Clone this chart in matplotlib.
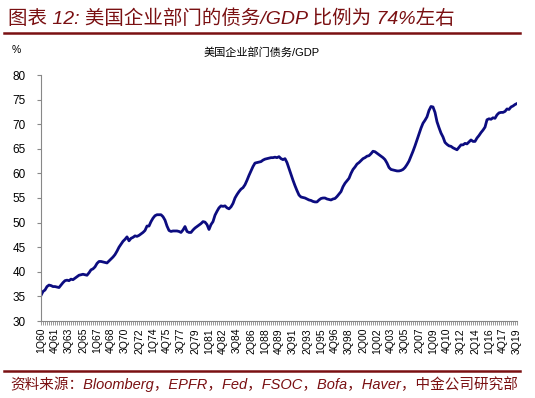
import matplotlib
matplotlib.use('Agg')
import matplotlib.pyplot as plt
from matplotlib.lines import Line2D

plt.rcParams['font.family'] = ['Liberation Sans', 'Noto Sans CJK SC', 'DejaVu Sans']

# quarterly corporate debt / GDP (%), 1Q60 .. 3Q19
debt_1960s = [35.2, 36.0, 36.3, 37.0, 37.3, 37.2, 37.0, 37.0, 36.9, 36.8, 37.3, 37.8,
              38.2, 38.3, 38.2, 38.5, 38.4, 38.7, 39.0, 39.3, 39.4, 39.5, 39.4, 39.3,
              39.8, 40.4, 40.6, 41.0, 41.7, 42.1, 42.1, 42.0, 41.9, 41.8, 42.2, 42.6,
              43.0, 43.5, 44.2, 45.0]
debt_1970s = [45.6, 46.2, 46.6, 47.1, 46.3, 46.8, 47.0, 47.3, 47.2, 47.4, 47.7, 48.0,
              48.4, 49.3, 49.3, 50.2, 50.9, 51.4, 51.6, 51.6, 51.6, 51.2, 50.5, 49.3,
              48.4, 48.2, 48.3, 48.3, 48.3, 48.2, 48.0, 48.5, 49.2, 48.2, 48.0, 48.0,
              48.5, 48.9, 49.2, 49.5]
debt_1980s = [49.8, 50.2, 50.1, 49.6, 48.6, 49.6, 50.2, 51.5, 52.3, 53.0, 53.4, 53.3,
              53.4, 53.0, 52.8, 53.2, 53.9, 55.0, 55.7, 56.3, 56.8, 57.1, 57.7, 58.6,
              59.6, 60.5, 61.4, 62.1, 62.2, 62.3, 62.4, 62.7, 62.9, 63.0, 63.1, 63.2,
              63.2, 63.3, 63.2, 63.4]
debt_1990s = [63.0, 62.8, 63.0, 62.2, 61.0, 59.8, 58.6, 57.5, 56.5, 55.6, 55.2, 55.1,
              55.0, 54.8, 54.6, 54.5, 54.3, 54.2, 54.2, 54.6, 54.9, 55.0, 55.0, 54.8,
              54.7, 54.6, 54.8, 54.9, 55.3, 55.8, 56.3, 57.3, 58.0, 58.5, 59.0, 60.0,
              60.8, 61.3, 61.9, 62.2]
debt_2000s = [62.6, 63.0, 63.2, 63.5, 63.6, 64.0, 64.5, 64.4, 64.1, 63.8, 63.5, 63.2,
              62.8, 62.1, 61.2, 60.8, 60.7, 60.6, 60.5, 60.5, 60.6, 60.8, 61.2, 61.8,
              62.5, 63.5, 64.5, 65.6, 66.8, 68.0, 69.2, 70.2, 70.8, 71.5, 72.8, 73.6,
              73.5, 72.4, 70.5, 69.3]
debt_2010s = [68.2, 67.4, 66.3, 65.9, 65.6, 65.5, 65.2, 65.0, 64.8, 65.3, 65.8, 65.8,
              66.1, 66.0, 66.4, 66.8, 66.5, 66.5, 67.2, 67.7, 68.3, 68.8, 69.4, 70.9,
              71.1, 71.0, 71.3, 71.2, 71.9, 72.3, 72.4, 72.4, 72.6, 73.1, 73.0, 73.5,
              73.7, 74.0, 74.2]
debt = debt_1960s + debt_1970s + debt_1980s + debt_1990s + debt_2000s + debt_2010s

start_year = 1960
quarters = ['%dQ%02d' % (i % 4 + 1, (start_year + i // 4) % 100) for i in range(len(debt))]
label_step = 7

title = '图表 12: 美国企业部门的债务/GDP 比例为 74%左右'
chart_title = '美国企业部门债务/GDP'
source = '资料来源：Bloomberg，EPFR，Fed，FSOC，Bofa，Haver，中金公司研究部'

red = '#7a1012'
navy = '#0c0c80'

fig = plt.figure(figsize=(5.35, 3.98), dpi=100)
ax = fig.add_axes([41 / 535, 1 - 321 / 398, 476 / 535, 246 / 398])

x = list(range(len(debt)))
ax.plot(x, debt, color=navy, linewidth=2.0, solid_joinstyle='round')

ax.set_xlim(0, len(debt) - 1)
ax.set_ylim(30, 80)
ax.set_yticks(range(30, 81, 5))
ax.tick_params(axis='y', labelsize=8.5, length=3, color='#888888', pad=8)
major = list(range(0, len(debt), label_step))
ax.set_xticks(major)
ax.set_xticklabels([quarters[i] for i in major], rotation=90, fontsize=7.5)
ax.set_xticks(x, minor=True)
ax.tick_params(axis='x', which='both', length=3, width=0.6, color='#888888', pad=2)

for side in ['top', 'right']:
    ax.spines[side].set_visible(False)
for side in ['left', 'bottom']:
    ax.spines[side].set_color('#888888')
    ax.spines[side].set_linewidth(0.8)

# header / footer
fig.text(8 / 535, 1 - 19 / 398, title, color=red, fontsize=14, style='italic',
         va='center', ha='left')
fig.add_artist(Line2D([4 / 535, 520 / 535], [1 - 33 / 398, 1 - 33 / 398],
                      color=red, linewidth=1.8))
fig.text(12 / 535, 1 - 50 / 398, '%', fontsize=7.5, va='center', ha='left')
fig.text(262 / 535, 1 - 53 / 398, chart_title, fontsize=8, va='center', ha='center')
fig.add_artist(Line2D([4 / 535, 520 / 535], [1 - 371 / 398, 1 - 371 / 398],
                      color=red, linewidth=1.8))
fig.text(10 / 535, 1 - 384 / 398, source, color=red, fontsize=10.5, style='italic',
         va='center', ha='left')

fig.savefig('out.png', dpi=100)
